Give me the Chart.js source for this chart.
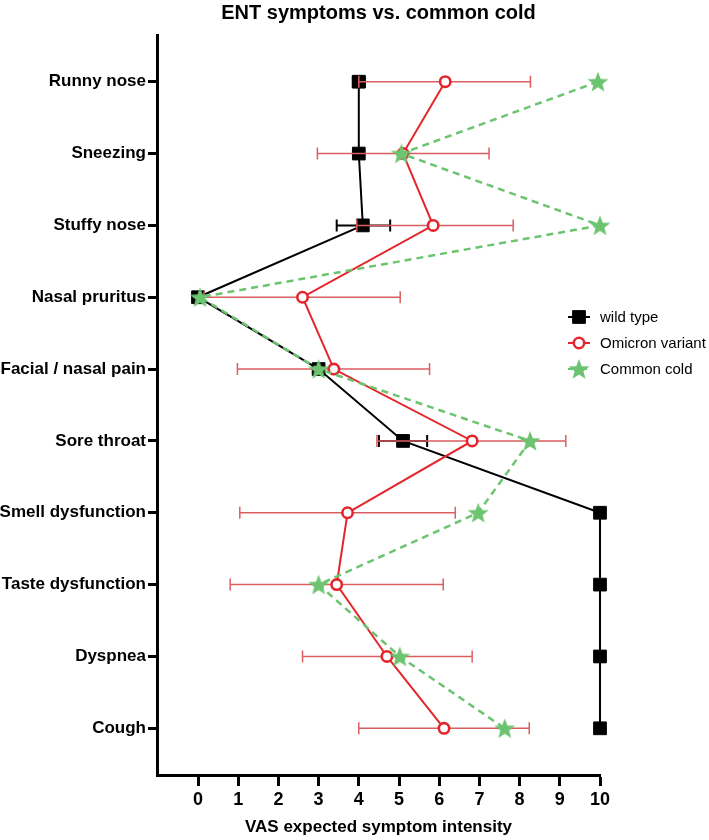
<!DOCTYPE html>
<html>
<head>
<meta charset="utf-8">
<script src="https://cdn.jsdelivr.net/npm/chart.js@4.4.1/dist/chart.umd.min.js"></script>
<style>
  html, body { margin: 0; padding: 0; background: #fff; }
  #wrap { width: 709px; height: 840px; }
</style>
</head>
<body>
<div id="wrap"><canvas id="chart"></canvas></div>
<script>
// Chart values
const symptoms = [
  "Runny nose",
  "Sneezing",
  "Stuffy nose",
  "Nasal pruritus",
  "Facial / nasal pain",
  "Sore throat",
  "Smell dysfunction",
  "Taste dysfunction",
  "Dyspnea",
  "Cough",
];
const xTicks = [0, 1, 2, 3, 4, 5, 6, 7, 8, 9, 10];

const wildType = [4.0, 4.0, 4.1, 0, 3.0, 5.1, 10, 10, 10, 10];
const wildTypeLow = [3.85, 4.0, 3.45, 0, 3.0, 4.5, 10, 10, 10, 10];
const wildTypeHigh = [4.15, 4.0, 4.78, 0, 3.0, 5.7, 10, 10, 10, 10];

const omicron = [6.15, 5.1, 5.85, 2.6, 3.38, 6.82, 3.72, 3.45, 4.7, 6.12];
const omicronLow = [4.0, 2.97, 3.95, 0.15, 0.98, 4.45, 1.04, 0.8, 2.6, 4.0];
const omicronHigh = [8.27, 7.24, 7.84, 5.03, 5.76, 9.15, 6.4, 6.1, 6.82, 8.24];

const commonCold = [9.95, 5.06, 10, 0.05, 3.0, 8.26, 6.97, 3.0, 5.02, 7.63];

const BLACK = "#000000";
const RED = "#e3262b";
const RED_ERR = "#db5f60";
const GREEN = "#6cc370";
const FONT = '"Liberation Sans", Arial, sans-serif';

// filled five-point star used as a point style
function makeStar(size, color) {
  const c = document.createElement("canvas");
  c.width = size;
  c.height = size;
  const g = c.getContext("2d");
  const cx = size / 2, cy = size / 2 + 0.9;
  const outer = size / 2, inner = outer * 0.42;
  g.beginPath();
  for (let i = 0; i < 10; i++) {
    const r = i % 2 === 0 ? outer : inner;
    const a = -Math.PI / 2 + (i * Math.PI) / 5;
    const px = cx + r * Math.cos(a);
    const py = cy + r * Math.sin(a);
    i === 0 ? g.moveTo(px, py) : g.lineTo(px, py);
  }
  g.closePath();
  g.fillStyle = color;
  g.fill();
  return c;
}
const star = makeStar(22, GREEN);

const toPoints = (values) => values.map((v, i) => ({ x: v, y: i }));

// horizontal error bars, drawn just under their own dataset
const errorBars = {
  id: "errorBars",
  beforeDatasetDraw(chart, args) {
    const ds = chart.data.datasets[args.index];
    if (!ds.errLow) return;
    const { ctx, scales } = chart;
    ctx.save();
    ctx.strokeStyle = ds.errColor;
    ctx.lineWidth = ds.errWidth;
    ds.errLow.forEach((lo, i) => {
      const hi = ds.errHigh[i];
      if (hi - lo < 0.01) return;
      const x1 = scales.x.getPixelForValue(lo);
      const x2 = scales.x.getPixelForValue(hi);
      const y = scales.y.getPixelForValue(i);
      ctx.beginPath();
      ctx.moveTo(x1, y);
      ctx.lineTo(x2, y);
      ctx.moveTo(x1, y - 6);
      ctx.lineTo(x1, y + 6);
      ctx.moveTo(x2, y - 6);
      ctx.lineTo(x2, y + 6);
      ctx.stroke();
    });
    ctx.restore();
  },
};

// title centred over the plot, and the legend inside it on the right
const titleAndLegend = {
  id: "titleAndLegend",
  afterDraw(chart) {
    const { ctx, chartArea } = chart;
    ctx.save();
    ctx.fillStyle = "#000";
    ctx.font = "bold 20px " + FONT;
    ctx.textAlign = "center";
    ctx.textBaseline = "middle";
    ctx.fillText("ENT symptoms vs. common cold", (chartArea.left + chartArea.right) / 2, 13);

    ctx.textAlign = "left";
    const items = chart.data.datasets.slice().sort((a, b) => b.order - a.order);
    items.forEach((ds, k) => {
      const y = 317 + k * 26;
      ctx.strokeStyle = ds.borderColor;
      ctx.lineWidth = 2;
      ctx.setLineDash(ds.borderDash || []);
      ctx.beginPath();
      ctx.moveTo(568, y);
      ctx.lineTo(590, y);
      ctx.stroke();
      ctx.setLineDash([]);
      ctx.fillStyle = ds.pointBackgroundColor;
      ctx.strokeStyle = ds.pointBorderColor;
      ctx.lineWidth = ds.pointBorderWidth;
      if (ds.pointStyle === star) {
        ctx.drawImage(star, 568, y - 11);
      } else {
        ctx.beginPath();
        if (ds.pointStyle === "rect") {
          const s = Math.SQRT1_2 * ds.pointRadius;
          ctx.rect(579 - s, y - s, 2 * s, 2 * s);
        } else {
          ctx.arc(579, y, ds.pointRadius, 0, Math.PI * 2);
        }
        ctx.fill();
        ctx.stroke();
      }
      ctx.fillStyle = "#000";
      ctx.font = "15px " + FONT;
      ctx.fillText(ds.label, 600, y + 1);
    });
    ctx.restore();
  },
};

const axisGrid = (len) => ({
  display: true,
  drawOnChartArea: false,
  drawTicks: true,
  tickLength: len,
  tickWidth: 3,
  tickColor: "#000",
});

new Chart(document.getElementById("chart"), {
  type: "scatter",
  data: {
    datasets: [
      {
        label: "wild type",
        data: toPoints(wildType),
        errLow: wildTypeLow,
        errHigh: wildTypeHigh,
        errColor: BLACK,
        errWidth: 2,
        showLine: true,
        borderColor: BLACK,
        borderWidth: 2,
        pointStyle: "rect",
        pointRadius: 9,
        pointBorderWidth: 1,
        pointBackgroundColor: BLACK,
        pointBorderColor: BLACK,
        order: 3,
        clip: false,
      },
      {
        label: "Omicron variant",
        data: toPoints(omicron),
        errLow: omicronLow,
        errHigh: omicronHigh,
        errColor: RED_ERR,
        errWidth: 1.5,
        showLine: true,
        borderColor: RED,
        borderWidth: 2,
        pointStyle: "circle",
        pointRadius: 5.2,
        pointBorderWidth: 2.6,
        pointBackgroundColor: "#ffffff",
        pointBorderColor: RED,
        order: 2,
        clip: false,
      },
      {
        label: "Common cold",
        data: toPoints(commonCold),
        showLine: true,
        borderColor: GREEN,
        borderWidth: 2.5,
        borderDash: [7, 5],
        pointStyle: star,
        pointRadius: 11,
        pointBorderWidth: 0,
        pointBackgroundColor: GREEN,
        pointBorderColor: GREEN,
        order: 1,
        clip: false,
      },
    ],
  },
  options: {
    responsive: true,
    maintainAspectRatio: false,
    animation: false,
    layout: { padding: { left: 0, right: 109, top: 35, bottom: 0 } },
    plugins: {
      legend: { display: false },
      tooltip: { enabled: false },
      title: { display: false },
    },
    scales: {
      x: {
        type: "linear",
        min: -1.02,
        max: 10,
        afterBuildTicks: (scale) => {
          scale.ticks = xTicks.map((v) => ({ value: v }));
        },
        afterFit: (scale) => {
          scale.height = 65;
        },
        border: { display: true, color: "#000", width: 3 },
        grid: axisGrid(11),
        ticks: {
          color: "#000",
          padding: 3,
          font: { family: FONT, size: 18, weight: "bold" },
          callback: (v) => v,
        },
        title: {
          display: true,
          text: "VAS expected symptom intensity",
          color: "#000",
          font: { family: FONT, size: 17, weight: "bold" },
          padding: { top: 2, bottom: 2 },
        },
      },
      y: {
        type: "linear",
        reverse: true,
        min: -0.65,
        max: 9.65,
        afterBuildTicks: (scale) => {
          scale.ticks = symptoms.map((_, i) => ({ value: i }));
        },
        afterFit: (scale) => {
          scale.width = 157;
        },
        border: { display: true, color: "#000", width: 3 },
        grid: axisGrid(9),
        ticks: {
          color: "#000",
          padding: 2,
          font: { family: FONT, size: 17, weight: "bold" },
          callback: (v) => symptoms[v],
        },
      },
    },
  },
  plugins: [errorBars, titleAndLegend],
});
</script>
</body>
</html>
